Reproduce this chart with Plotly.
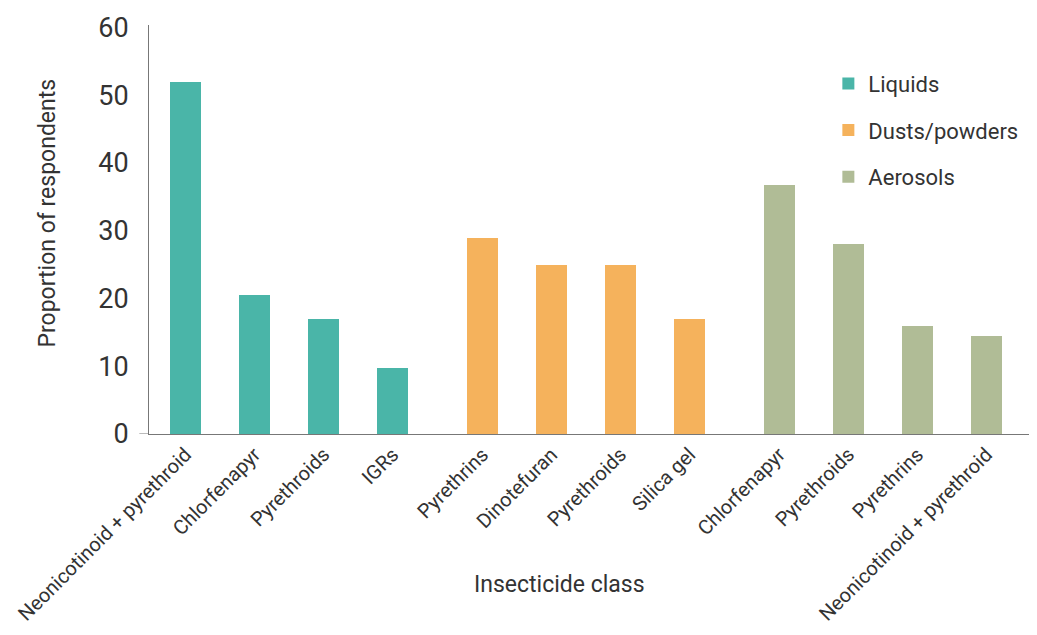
import plotly.graph_objects as go

# ---- data ----
groups = ["Liquids", "Dusts/powders", "Aerosols"]
liquids_labels = ["Neonicotinoid + pyrethroid", "Chlorfenapyr", "Pyrethroids", "IGRs"]
liquids_values = [52, 20.5, 17, 9.7]
dusts_labels = ["Pyrethrins", "Dinotefuran", "Pyrethroids", "Silica gel"]
dusts_values = [29, 25, 25, 17]
aerosols_labels = ["Chlorfenapyr", "Pyrethroids", "Pyrethrins", "Neonicotinoid + pyrethroid"]
aerosols_values = [36.7, 28, 16, 14.5]
y_ticks = [0, 10, 20, 30, 40, 50, 60]

colors = ["#4AB5A8", "#F5B25C", "#B0BC96"]
FONT = "Roboto"
TEXT = "#333333"

# positions: 4 bars per group, extra gap between groups
group_gap = 0.3
series = [liquids_labels, dusts_labels, aerosols_labels]
values = [liquids_values, dusts_values, aerosols_values]
positions = []
start = 0.0
for labels in series:
    positions.append([start + i for i in range(len(labels))])
    start += len(labels) + group_gap

fig = go.Figure()
for name, pos, vals, col in zip(groups, positions, values, colors):
    fig.add_trace(go.Bar(
        x=pos, y=vals, name=name, marker=dict(color=col, line=dict(width=0)),
        width=0.45, legendgroup=name,
    ))

all_pos = [p for ps in positions for p in ps]
all_labels = [l for ls in series for l in ls]

fig.update_layout(
    width=1029, height=627,
    margin=dict(l=141, r=8, t=17, b=201, autoexpand=False),
    paper_bgcolor="white", plot_bgcolor="white",
    font=dict(family=FONT, color=TEXT, size=20),
    showlegend=True,
    legend=dict(
        x=0.772, y=0.908, xanchor="left", yanchor="top",
        font=dict(size=22, family=FONT, color=TEXT),
        tracegroupgap=15, itemwidth=30, bgcolor="rgba(0,0,0,0)",
    ),
    bargap=0,
    xaxis=dict(
        range=[-0.529, 12.216], tickmode="array", tickvals=all_pos, ticktext=all_labels,
        tickangle=-45, showgrid=False, zeroline=False, showline=True,
        linecolor="#777777", linewidth=1, ticks="", automargin=False,
        tickfont=dict(size=20, family=FONT, color=TEXT),
    ),
    yaxis=dict(
        range=[0, 60.37], tickmode="array", tickvals=y_ticks,
        showgrid=False, zeroline=False, showline=True, linecolor="#777777", linewidth=1,
        ticks="", ticklabelstandoff=14, automargin=False,
        tickfont=dict(size=27, family=FONT, color=TEXT),
    ),
    annotations=[
        dict(text="Proportion of respondents", xref="paper", yref="paper",
             x=-0.115, y=0.541, textangle=-90, showarrow=False,
             font=dict(size=23, family=FONT, color=TEXT), xanchor="center", yanchor="middle"),
        dict(text="Insecticide class", xref="paper", yref="paper",
             x=0.467, y=-0.368, showarrow=False,
             font=dict(size=23, family=FONT, color=TEXT), xanchor="center", yanchor="middle"),
    ],
    shapes=[
        dict(type="line", xref="paper", yref="y", x0=-0.011, x1=0, y0=0, y1=0,
             line=dict(color="#777777", width=1)),
    ],
)

fig.write_html("out.html")
